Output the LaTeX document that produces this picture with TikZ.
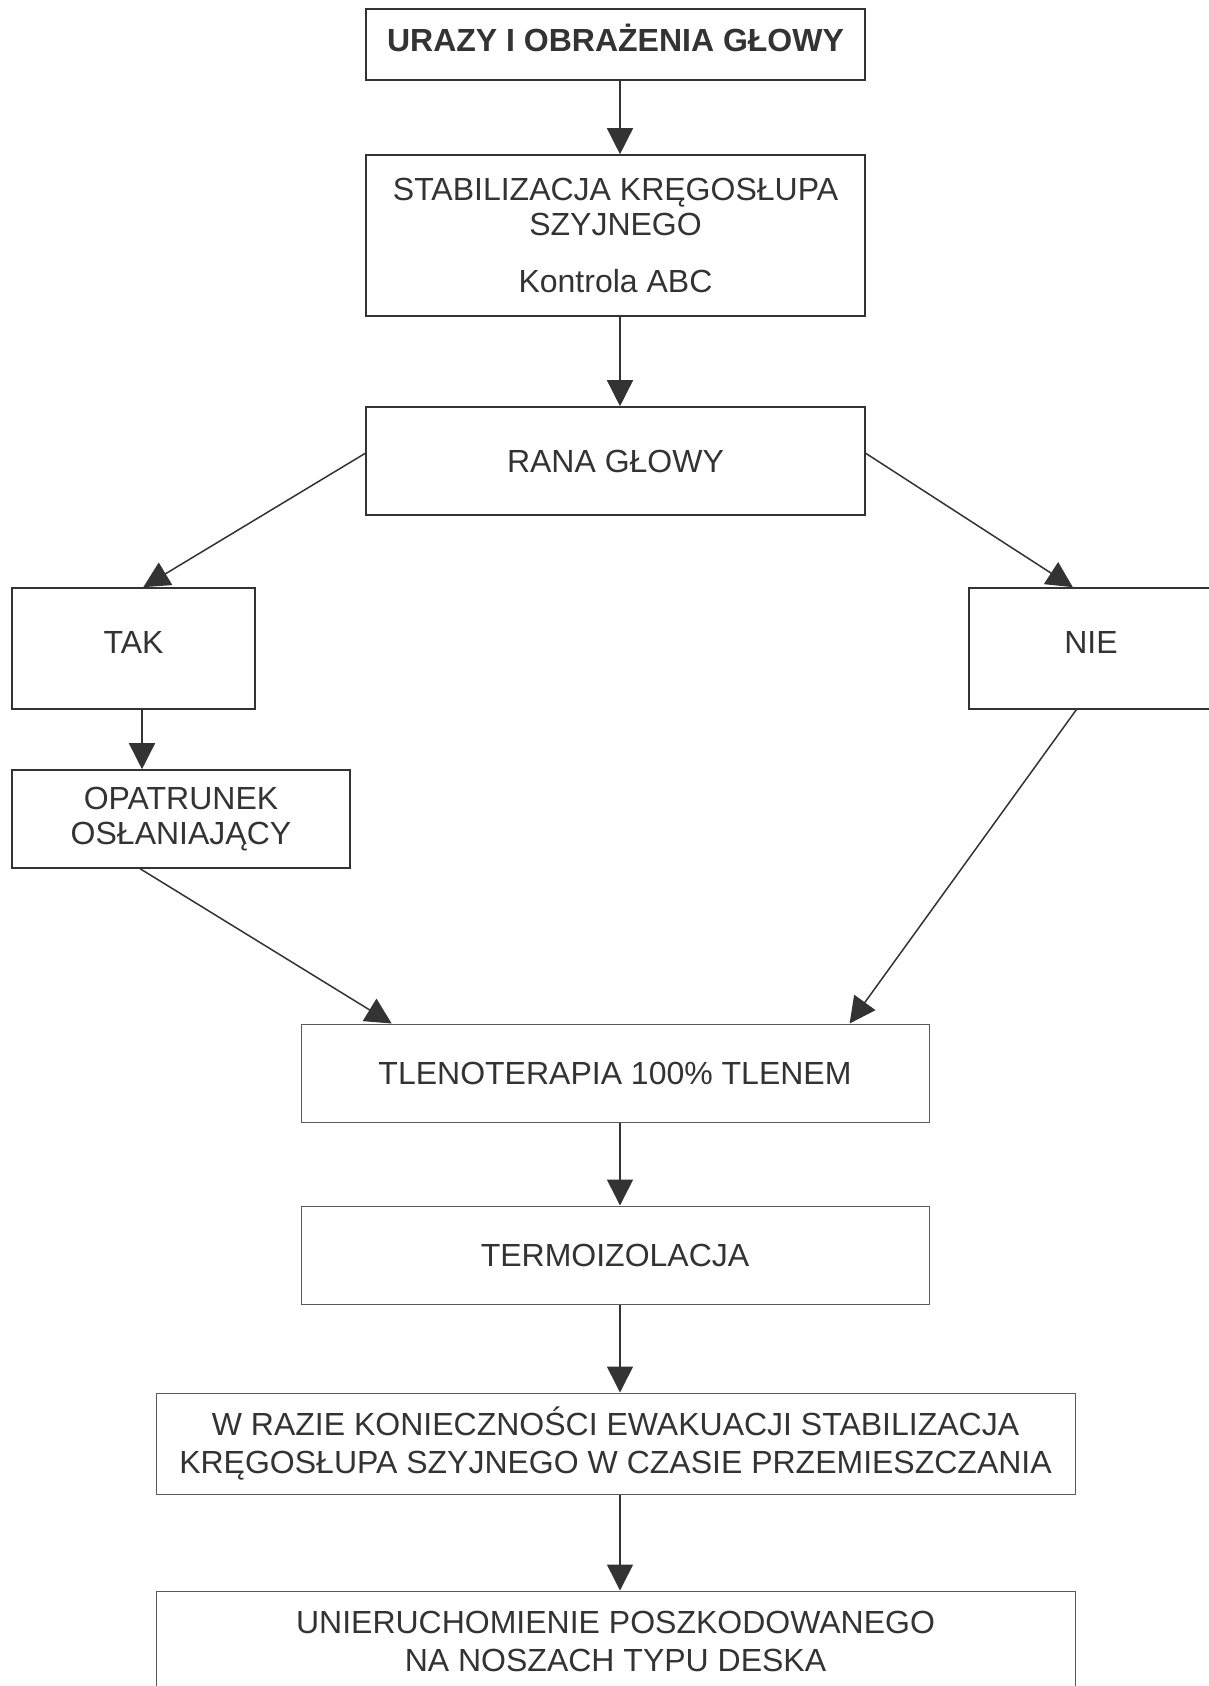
\documentclass[tikz,border=0pt]{standalone}
\usepackage{fontspec}
\setmainfont{Liberation Sans}
\usetikzlibrary{arrows.meta,calc}
\definecolor{ink}{HTML}{333333}
\definecolor{thin}{HTML}{5A5A5A}
\tikzset{
  box/.style={draw=ink, line width=0.8pt, rectangle, inner sep=0pt, text=ink,
    font=\fontsize{16pt}{17.5pt}\selectfont, align=center},
  lbox/.style={box, draw=thin, line width=0.5pt},
  arr/.style={draw=ink, line width=0.75pt, -{Triangle[width=13pt,length=13pt]}},
}
\begin{document}
\begin{tikzpicture}[x=0.5pt,y=-0.5pt]
\useasboundingbox (0,0) rectangle (1209,1686);
\clip (0,0) rectangle (1209,1686);
\fill[white] (0,0) rectangle (1209,1686);
\coordinate (ax) at (620,0);
\coordinate (tx) at (142,0);

\node[box, minimum width=249.5pt, minimum height=35.5pt, text height=11.5pt, text depth=4.5pt,
  font=\fontsize{16pt}{17.5pt}\selectfont\bfseries]
  (b1) at (615.5,44.5) {URAZY I OBRAŻENIA GŁOWY};
\node[box, minimum width=249.5pt, minimum height=80.5pt] (b2) at (615.5,235.5)
  {STABILIZACJA KRĘGOSŁUPA\\SZYJNEGO\\[11pt]Kontrola ABC};
\node[box, minimum width=249.5pt, minimum height=54pt] (b3) at (615.5,461) {RANA GŁOWY};
\node[box, minimum width=121.5pt, minimum height=60.5pt, text height=11.5pt, text depth=6.4pt] (tak) at (133.5,648.5) {TAK};
\node[box, minimum width=122pt, minimum height=60.5pt, text height=11.5pt, text depth=6.4pt] (nie) at (1091,648.5) {NIE};
\node[box, minimum width=169pt, minimum height=49pt] (opat) at (181,819) {OPATRUNEK\\OSŁANIAJĄCY};
\node[lbox, minimum width=314pt, minimum height=49pt] (tleno) at (615,1073) {TLENOTERAPIA 100\% TLENEM};
\node[lbox, minimum width=314pt, minimum height=49pt] (termo) at (615,1255) {TERMOIZOLACJA};
\node[lbox, minimum width=459.5pt, minimum height=50.5pt, font=\fontsize{16pt}{19pt}\selectfont] (wraz) at (615.5,1443.5)
  {W RAZIE KONIECZNOŚCI EWAKUACJI STABILIZACJA\\KRĘGOSŁUPA SZYJNEGO W CZASIE PRZEMIESZCZANIA};
\node[lbox, minimum width=459.5pt, minimum height=50.5pt, font=\fontsize{16pt}{19pt}\selectfont] (unier) at (615.5,1641.5)
  {UNIERUCHOMIENIE POSZKODOWANEGO\\NA NOSZACH TYPU DESKA};

\draw[arr] (b1.south -| ax) -- (b2.north -| ax);
\draw[arr] (b2.south -| ax) -- (b3.north -| ax);
\draw[arr] ($(b3.north west)!0.43!(b3.south west)$) -- ($(tak.north west)!0.54!(tak.north east)$);
\draw[arr] ($(b3.north east)!0.43!(b3.south east)$) -- ($(nie.north west)!0.426!(nie.north east)$);
\draw[arr] (tak.south -| tx) -- (opat.north -| tx);
\draw[arr] ($(opat.south west)!0.38!(opat.south east)$) -- ($(tleno.north west)!0.145!(tleno.north east)$);
\draw[arr] ($(nie.south west)!0.44!(nie.south east)$) -- ($(tleno.north west)!0.873!(tleno.north east)$);
\draw[arr] (tleno.south -| ax) -- (termo.north -| ax);
\draw[arr] (termo.south -| ax) -- (wraz.north -| ax);
\draw[arr] (wraz.south -| ax) -- (unier.north -| ax);
\end{tikzpicture}
\end{document}
